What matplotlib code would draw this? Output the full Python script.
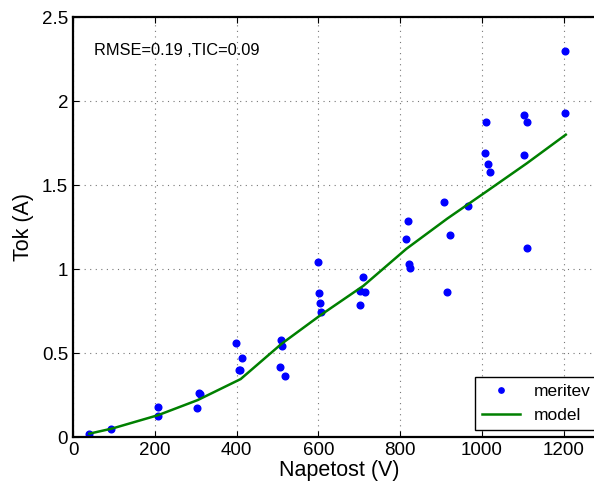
import numpy as np
import matplotlib
matplotlib.use("Agg")
import matplotlib.pyplot as plt

plt.rcParams["font.family"] = ["Liberation Sans", "DejaVu Sans"]

# measured points
napetost = [40, 94, 207, 208, 304, 307, 311, 399, 413, 405, 408,
            509, 512, 506, 518, 600, 602, 603, 607,
            708, 703, 714, 703, 819, 814, 821, 824,
            908, 923, 914, 966, 1011, 1008, 1015, 1019,
            1104, 1110, 1104, 1111, 1202, 1203]
tok = [0.02, 0.05, 0.18, 0.127, 0.17, 0.26, 0.255, 0.56, 0.47, 0.40, 0.40,
       0.58, 0.54, 0.417, 0.363, 1.04, 0.86, 0.80, 0.744,
       0.954, 0.871, 0.861, 0.786, 1.284, 1.18, 1.032, 1.004,
       1.40, 1.20, 0.865, 1.373, 1.875, 1.69, 1.625, 1.58,
       1.918, 1.877, 1.677, 1.123, 2.30, 1.93]

# model curve
model_u = [40, 95, 208, 305, 410, 510, 605, 710, 815, 915, 1010, 1110, 1205]
model_i = [0.02, 0.05, 0.13, 0.22, 0.345, 0.555, 0.725, 0.90, 1.12, 1.30, 1.46, 1.63, 1.80]

fig = plt.figure(figsize=(5.94, 4.86), dpi=100)
ax = fig.add_axes([0.1229, 0.1008, 0.895, 0.864])

ax.plot(napetost, tok, "o", color="#0000ff", markersize=4.8, label="meritev")
ax.plot(model_u, model_i, "-", color="#008000", linewidth=1.8, label="model")

ax.set_xlim(0, 1300)
ax.set_ylim(0, 2.5)
ax.set_xticks([0, 200, 400, 600, 800, 1000, 1200])
ax.set_yticks([0, 0.5, 1, 1.5, 2, 2.5])
ax.set_yticklabels(["0", "0.5", "1", "1.5", "2", "2.5"])
ax.grid(True, linestyle=(0, (1, 4)), color="#777777", linewidth=0.8)
ax.tick_params(direction="in", top=True, right=True, labelsize=13.5, length=4)
for s in ax.spines.values():
    s.set_linewidth(1.6)

ax.set_xlabel("Napetost (V)", fontsize=15.5, labelpad=1)
ax.set_ylabel("Tok (A)", fontsize=15.5, labelpad=6)

ax.text(52, 2.30, "RMSE=0.19 ,TIC=0.09", fontsize=11.8, va="center")

leg = ax.legend(loc="lower right", fontsize=12.5, fancybox=False, framealpha=1,
                edgecolor="black", borderaxespad=0.4, handlelength=2.2,
                markerscale=0.8)
leg.get_frame().set_linewidth(1.0)

fig.savefig("out.png", dpi=100)
